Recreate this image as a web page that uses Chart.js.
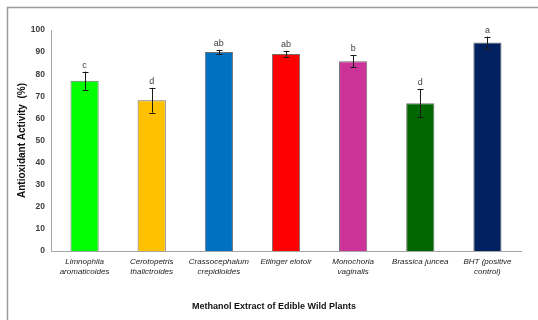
<!DOCTYPE html>
<html>
<head>
<meta charset="utf-8">
<script src="https://cdn.jsdelivr.net/npm/chart.js@4.4.1/dist/chart.umd.min.js"></script>
<style>
  html, body { margin: 0; padding: 0; background: #fff; }
  #wrap { position: relative; width: 538px; height: 320px; }
</style>
</head>
<body>
<div id="wrap"><canvas id="c" width="538" height="320"></canvas></div>
<script>
// Plant extracts (x categories)
const plants = [
  ["Limnophila", "aromaticoides"],
  ["Cerotopetris", "thalictroides"],
  ["Crassocephalum", "crepidioides"],
  "Etlinger elotoir",
  ["Monochoria", "vaginalis"],
  "Brassica juncea",
  ["BHT (positive", "control)"]
];
// Mean antioxidant activity (%)
const activity = [77.0, 68.2, 90.0, 89.1, 85.9, 66.8, 94.3];
// Standard deviation (error bar half-length)
const deviation = [4.2, 5.6, 1.0, 1.5, 2.8, 6.3, 2.7];
// Significance letters
const groups = ["c", "d", "ab", "ab", "b", "d", "a"];
// Y axis ticks
const yTicks = [0, 10, 20, 30, 40, 50, 60, 70, 80, 90, 100];

const barColors = ["#00FF00", "#FFC000", "#0070C0", "#FF0000", "#CC3399", "#006600", "#002060"];

const framePlugin = {
  id: "frame",
  beforeDraw(chart) {
    const ctx = chart.ctx;
    ctx.save();
    ctx.strokeStyle = "#9a9a9a";
    ctx.lineWidth = 1.5;
    ctx.beginPath();
    ctx.moveTo(7.5, 320);
    ctx.lineTo(7.5, 7.5);
    ctx.lineTo(538, 7.5);
    ctx.stroke();
    ctx.restore();
  }
};

const errorPlugin = {
  id: "errorBars",
  afterDatasetsDraw(chart) {
    const ctx = chart.ctx;
    const y = chart.scales.y;
    const meta = chart.getDatasetMeta(0);
    ctx.save();
    ctx.strokeStyle = "#1a1a1a";
    ctx.lineWidth = 1;
    meta.data.forEach((bar, i) => {
      const x = Math.round(bar.x) + 0.5;
      const hi = y.getPixelForValue(activity[i] + deviation[i]);
      const lo = y.getPixelForValue(activity[i] - deviation[i]);
      ctx.beginPath();
      ctx.moveTo(x, hi); ctx.lineTo(x, lo);
      ctx.moveTo(x - 3, Math.round(hi) + 0.5); ctx.lineTo(x + 3, Math.round(hi) + 0.5);
      ctx.moveTo(x - 3, Math.round(lo) + 0.5); ctx.lineTo(x + 3, Math.round(lo) + 0.5);
      ctx.stroke();
      ctx.fillStyle = "#404040";
      ctx.font = "9px 'Liberation Sans', Arial, sans-serif";
      ctx.textAlign = "center";
      ctx.textBaseline = "alphabetic";
      ctx.fillText(groups[i], bar.x, hi - 4);
    });
    // x axis title
    ctx.fillStyle = "#111";
    ctx.font = "bold 9px 'Liberation Sans', Arial, sans-serif";
    ctx.textAlign = "center";
    ctx.textBaseline = "middle";
    ctx.fillText("Methanol Extract of Edible Wild Plants", 274, 307);
    ctx.restore();
  }
};

new Chart(document.getElementById("c"), {
  type: "bar",
  data: {
    labels: plants,
    datasets: [{
      data: activity,
      backgroundColor: barColors,
      borderColor: "#6f6f6f",
      borderWidth: 1,
      borderSkipped: "bottom",
      barPercentage: 0.42,
      categoryPercentage: 1.0
    }]
  },
  options: {
    responsive: false,
    animation: false,
    devicePixelRatio: 1,
    layout: { padding: { left: 0, right: 17, top: 30, bottom: 0 } },
    plugins: { legend: { display: false }, tooltip: { enabled: false } },
    scales: {
      x: {
        grid: { display: false, drawTicks: false },
        border: { display: true, color: "#a6a6a6", width: 1 },
        ticks: {
          color: "#222",
          font: { family: "'Liberation Sans', Arial, sans-serif", size: 8, style: "italic", lineHeight: 1.25 },
          padding: 6,
          maxRotation: 0,
          autoSkip: false
        },
        afterFit(scale) { scale.height = 69; }
      },
      y: {
        min: 0,
        max: 100,
        afterBuildTicks(scale) { scale.ticks = yTicks.map(v => ({ value: v })); },
        grid: { display: false, drawTicks: false },
        border: { display: true, color: "#a6a6a6", width: 1 },
        ticks: {
          color: "#404040",
          font: { family: "'Liberation Sans', Arial, sans-serif", size: 8.5, weight: "bold" },
          padding: 6
        },
        title: {
          display: true,
          text: "Antioxidant Activity  (%)",
          color: "#111",
          font: { family: "'Liberation Sans', Arial, sans-serif", size: 10, weight: "bold" },
          padding: { top: 16, bottom: 0 }
        },
        afterFit(scale) { scale.width = 51; }
      }
    }
  },
  plugins: [framePlugin, errorPlugin]
});
</script>
</body>
</html>
